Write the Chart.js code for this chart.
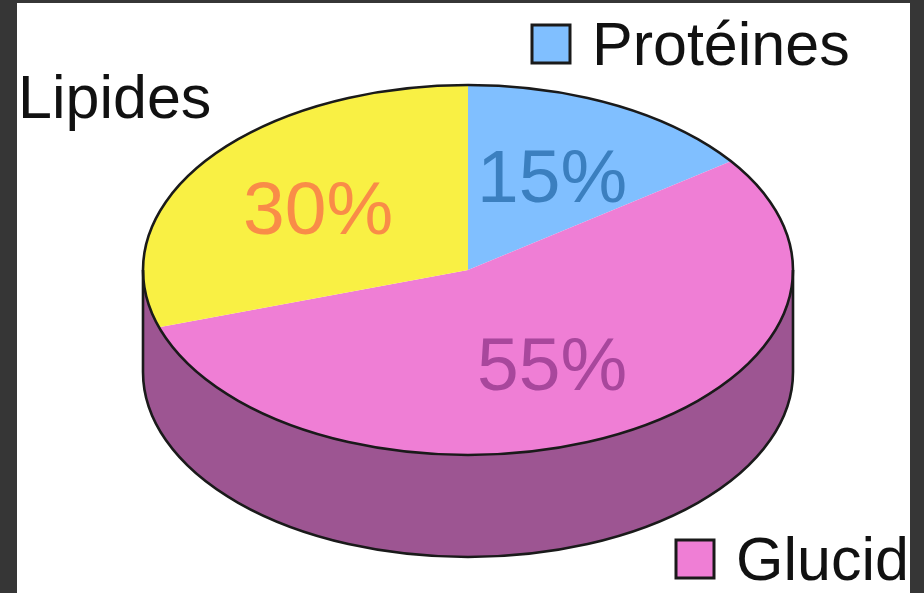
<!DOCTYPE html>
<html>
<head>
<meta charset="utf-8">
<script src="https://cdn.jsdelivr.net/npm/chart.js@4.4.0/dist/chart.umd.min.js"></script>
<style>
  html, body { margin: 0; padding: 0; background: #363636; }
  body { width: 924px; height: 593px; position: relative; overflow: hidden; }
  #frame { position: absolute; left: 17px; top: 3px; width: 893px; height: 590px; background: #fff; overflow: hidden; }
  #pie { position: absolute; left: 0; top: 0; }
</style>
</head>
<body>
<div id="frame"><canvas id="pie" width="893" height="720"></canvas></div>
<script>
// data
const categories = ['Protéines', 'Glucides', 'Lipides'];
const shares = [15, 55, 30];

// styles
const sliceColors = ['#80bfff', '#ef7ed5', '#f9f044'];
const labelColors = ['#3b7fbf', '#a8479c', '#f98c48'];
const sideColor = '#9d5592';
const outlineColor = '#1a1a1a';

// how the round pie gets squashed into a tilted disc
const TILT = 185 / 325;
const TOP_Y = 267;      // centre of the top face, canvas px
const DEPTH = 102;      // height of the side wall
const LABEL_R = 0.57;   // where the % labels sit, fraction of radius

// text callouts round the pie (same order as categories)
const callouts = [
    { x: 575, y: 62, box: true },
    { x: 719, y: 577, box: true },
    { x: 1, y: 115, box: false }
];

const tiltPlugin = {
    id: 'tilt3d',
    beforeDatasetsDraw(chart) {
        const ctx = chart.ctx;
        const first = chart.getDatasetMeta(0).data[0];
        const cx = first.x;
        const rx = first.outerRadius;
        const ry = rx * TILT;

        // side wall, front half only
        ctx.save();
        ctx.fillStyle = sideColor;
        ctx.beginPath();
        ctx.ellipse(cx, TOP_Y, rx, ry, 0, 0, Math.PI);
        ctx.ellipse(cx, TOP_Y + DEPTH, rx, ry, 0, Math.PI, 0, true);
        ctx.closePath();
        ctx.fill();
        ctx.restore();

        // squash the library's pie into the top face
        ctx.save();
        ctx.translate(cx, TOP_Y);
        ctx.scale(1, TILT);
        ctx.translate(-cx, -first.y);
    },
    afterDatasetsDraw(chart) {
        const ctx = chart.ctx;
        ctx.restore();

        const arcs = chart.getDatasetMeta(0).data;
        const cx = arcs[0].x;
        const rx = arcs[0].outerRadius;
        const ry = rx * TILT;

        // outlines
        ctx.save();
        ctx.strokeStyle = outlineColor;
        ctx.lineWidth = 2.6;
        ctx.beginPath();
        ctx.ellipse(cx, TOP_Y, rx, ry, 0, 0, Math.PI * 2);
        ctx.stroke();
        ctx.beginPath();
        ctx.moveTo(cx - rx, TOP_Y);
        ctx.lineTo(cx - rx, TOP_Y + DEPTH);
        ctx.ellipse(cx, TOP_Y + DEPTH, rx, ry, 0, Math.PI, 0, true);
        ctx.lineTo(cx + rx, TOP_Y);
        ctx.stroke();
        ctx.restore();

        // percentage labels on the top face
        ctx.save();
        ctx.font = '75px "Liberation Sans", Arial, sans-serif';
        ctx.textAlign = 'center';
        ctx.textBaseline = 'alphabetic';
        arcs.forEach((arc, i) => {
            const mid = (arc.startAngle + arc.endAngle) / 2;
            const r = arc.outerRadius * LABEL_R;
            const x = cx + r * Math.cos(mid);
            const y = TOP_Y + r * Math.sin(mid) * TILT;
            ctx.fillStyle = labelColors[i];
            ctx.fillText(shares[i] + '%', x, y + 26);
        });
        ctx.restore();

        // category names with their colour boxes
        ctx.save();
        ctx.font = '61px "Liberation Sans", Arial, sans-serif';
        ctx.textBaseline = 'alphabetic';
        categories.forEach((name, i) => {
            const c = callouts[i];
            if (c.box) {
                ctx.fillStyle = sliceColors[i];
                ctx.strokeStyle = outlineColor;
                ctx.lineWidth = 3;
                ctx.fillRect(c.x - 60, c.y - 40, 38, 38);
                ctx.strokeRect(c.x - 60, c.y - 40, 38, 38);
            }
            ctx.fillStyle = '#111';
            ctx.fillText(name, c.x, c.y);
        });
        ctx.restore();
    }
};

const canvas = document.getElementById('pie');
new Chart(canvas.getContext('2d'), {
    type: 'pie',
    data: {
        labels: categories,
        datasets: [{
            data: shares,
            backgroundColor: sliceColors,
            borderWidth: 0
        }]
    },
    options: {
        responsive: false,
        animation: false,
        events: [],
        layout: {
            padding: { left: 126, right: 117, top: 20, bottom: 50 }
        },
        plugins: {
            legend: { display: false },
            tooltip: { enabled: false }
        }
    },
    plugins: [tiltPlugin]
});
</script>
</body>
</html>
